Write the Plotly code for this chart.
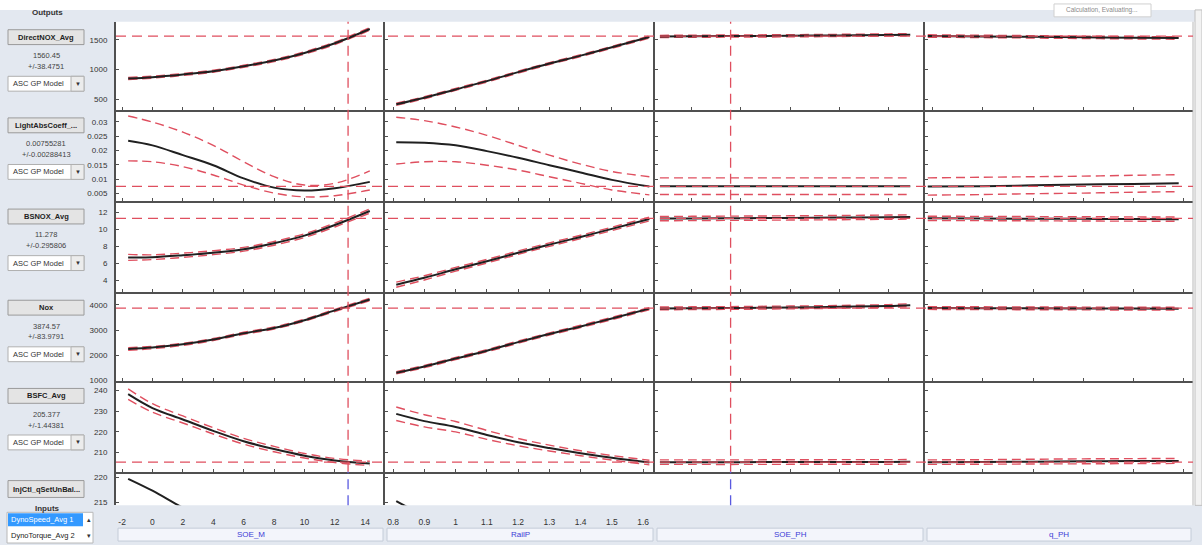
import plotly.graph_objects as go

W, H = 1202, 550

# ---------------- input sweeps ----------------
soe_m = [-1.6, 0, 2, 4, 6, 8, 10, 12, 14.3]
rail_p = [0.81, 0.9, 1.0, 1.1, 1.2, 1.3, 1.4, 1.5, 1.62]
soe_ph = [2.7, 4, 6, 8, 10, 12, 12.9]
q_ph = [-0.2, 2, 4, 6, 8, 9.8]
soe_m_short = [-1.6, 0, 1.5, 2.5]
rail_p_short = [0.81, 0.84, 0.9]

input_names = ["SOE_M", "RailP", "SOE_PH", "q_PH"]
input_current = [12.87, None, 5.58, None]

# ---------------- DirectNOX_Avg ----------------
dnox_soe_m = [850, 872, 917, 972, 1055, 1150, 1278, 1440, 1680]
dnox_soe_m_hi = [868, 889, 934, 989, 1072, 1168, 1297, 1460, 1702]
dnox_soe_m_lo = [832, 855, 900, 955, 1038, 1132, 1259, 1420, 1658]
dnox_rail_p = [417, 528, 667, 806, 956, 1100, 1233, 1372, 1545]
dnox_rail_p_hi = [435, 545, 683, 822, 972, 1116, 1249, 1388, 1562]
dnox_rail_p_lo = [399, 511, 651, 790, 940, 1084, 1217, 1356, 1528]
dnox_soe_ph = [1555, 1558, 1562, 1566, 1572, 1580, 1585]
dnox_soe_ph_hi = [1573, 1576, 1580, 1584, 1590, 1598, 1603]
dnox_soe_ph_lo = [1537, 1540, 1544, 1548, 1554, 1562, 1567]
dnox_q_ph = [1562, 1555, 1548, 1540, 1533, 1528]
dnox_q_ph_hi = [1582, 1575, 1568, 1560, 1553, 1548]
dnox_q_ph_lo = [1542, 1535, 1528, 1520, 1513, 1508]

# ---------------- LightAbsCoeff ----------------
lac_soe_m = [0.0234, 0.0218, 0.0184, 0.0149, 0.0103, 0.0071, 0.0061, 0.0069, 0.0091]
lac_soe_m_hi = [0.0320, 0.0299, 0.0264, 0.0218, 0.0161, 0.0109, 0.0080, 0.0086, 0.0129]
lac_soe_m_lo = [0.0164, 0.0161, 0.0144, 0.0115, 0.0080, 0.0052, 0.0039, 0.0043, 0.0063]
lac_rail_p = [0.0229, 0.0227, 0.0218, 0.0198, 0.0175, 0.0149, 0.0124, 0.0098, 0.0075]
lac_rail_p_hi = [0.0316, 0.0304, 0.0282, 0.0253, 0.0218, 0.0184, 0.0153, 0.0127, 0.0109]
lac_rail_p_lo = [0.0153, 0.0161, 0.0161, 0.0149, 0.0132, 0.0109, 0.0086, 0.0063, 0.0046]
lac_soe_ph = [0.00755, 0.00755, 0.00755, 0.00755, 0.00755, 0.00755, 0.00755]
lac_soe_ph_hi = [0.0105, 0.0105, 0.0105, 0.0105, 0.0105, 0.0105, 0.0105]
lac_soe_ph_lo = [0.0047, 0.0047, 0.0047, 0.0047, 0.0047, 0.0047, 0.0047]
lac_q_ph = [0.0075, 0.0076, 0.0079, 0.0082, 0.0084, 0.0086]
lac_q_ph_hi = [0.0105, 0.0107, 0.0109, 0.0111, 0.0114, 0.0116]
lac_q_ph_lo = [0.0045, 0.0047, 0.0050, 0.0052, 0.0055, 0.0057]

# ---------------- BSNOX_Avg ----------------
bsnox_soe_m = [6.70, 6.72, 6.95, 7.25, 7.65, 8.35, 9.25, 10.50, 12.15]
bsnox_soe_m_hi = [7.05, 7.00, 7.20, 7.48, 7.87, 8.57, 9.47, 10.73, 12.40]
bsnox_soe_m_lo = [6.35, 6.44, 6.70, 7.02, 7.43, 8.13, 9.03, 10.27, 11.90]
bsnox_rail_p = [3.50, 4.30, 5.30, 6.25, 7.25, 8.20, 9.10, 10.05, 11.20]
bsnox_rail_p_hi = [3.80, 4.55, 5.52, 6.46, 7.45, 8.40, 9.30, 10.25, 11.42]
bsnox_rail_p_lo = [3.20, 4.05, 5.08, 6.04, 7.05, 8.00, 8.90, 9.85, 10.98]
bsnox_soe_ph = [11.25, 11.27, 11.30, 11.33, 11.37, 11.42, 11.45]
bsnox_soe_ph_hi = [11.50, 11.52, 11.55, 11.58, 11.62, 11.67, 11.70]
bsnox_soe_ph_lo = [11.00, 11.02, 11.05, 11.08, 11.12, 11.17, 11.20]
bsnox_q_ph = [11.28, 11.26, 11.24, 11.22, 11.20, 11.19]
bsnox_q_ph_hi = [11.53, 11.51, 11.49, 11.47, 11.45, 11.44]
bsnox_q_ph_lo = [11.03, 11.01, 10.99, 10.97, 10.95, 10.94]

# ---------------- Nox ----------------
nox_soe_m = [2246, 2300, 2430, 2620, 2870, 3080, 3390, 3780, 4215]
nox_soe_m_hi = [2300, 2345, 2472, 2660, 2910, 3120, 3430, 3822, 4262]
nox_soe_m_lo = [2192, 2255, 2388, 2580, 2830, 3040, 3350, 3738, 4168]
nox_rail_p = [1297, 1547, 1864, 2178, 2517, 2842, 3143, 3457, 3850]
nox_rail_p_hi = [1342, 1592, 1909, 2223, 2562, 2887, 3188, 3502, 3895]
nox_rail_p_lo = [1252, 1502, 1819, 2133, 2472, 2797, 3098, 3412, 3805]
nox_soe_ph = [3860, 3868, 3880, 3898, 3922, 3955, 3990]
nox_soe_ph_hi = [3915, 3923, 3935, 3953, 3977, 4010, 4045]
nox_soe_ph_lo = [3805, 3813, 3825, 3843, 3867, 3900, 3935]
nox_q_ph = [3875, 3868, 3862, 3857, 3852, 3850]
nox_q_ph_hi = [3930, 3923, 3917, 3912, 3907, 3905]
nox_q_ph_lo = [3820, 3813, 3807, 3802, 3797, 3795]

# ---------------- BSFC_Avg ----------------
bsfc_soe_m = [238.2, 231.5, 226.0, 220.5, 215.5, 211.7, 208.5, 206.2, 204.8]
bsfc_soe_m_hi = [240.8, 233.6, 227.7, 222.0, 216.9, 213.0, 209.6, 207.2, 205.8]
bsfc_soe_m_lo = [235.7, 229.5, 224.3, 219.0, 214.1, 210.4, 207.4, 205.2, 203.8]
bsfc_rail_p = [228.7, 225.2, 222.4, 218.5, 215.0, 212.2, 209.7, 207.5, 205.2]
bsfc_rail_p_hi = [232.0, 228.3, 225.0, 220.7, 216.8, 213.6, 210.9, 208.6, 206.3]
bsfc_rail_p_lo = [225.5, 222.4, 220.0, 216.4, 213.3, 210.8, 208.5, 206.4, 204.1]
bsfc_soe_ph = [205.40, 205.40, 205.40, 205.45, 205.50, 205.50, 205.55]
bsfc_soe_ph_hi = [206.50, 206.50, 206.50, 206.55, 206.60, 206.60, 206.65]
bsfc_soe_ph_lo = [204.30, 204.30, 204.30, 204.35, 204.40, 204.40, 204.45]
bsfc_q_ph = [205.4, 205.5, 205.6, 205.8, 205.9, 206.0]
bsfc_q_ph_hi = [206.5, 206.6, 206.8, 207.0, 207.1, 207.2]
bsfc_q_ph_lo = [204.3, 204.4, 204.5, 204.6, 204.7, 204.8]

# ---------------- InjCtl_qSetUnBal ----------------
qset_soe_m = [219.7, 217.3, 214.7, 213.0]
qset_rail_p = [215.2, 214.2, 212.5]

# ---------------- output panel texts ----------------
output_buttons = ["DirectNOX_Avg", "LightAbsCoeff_...", "BSNOX_Avg", "Nox", "BSFC_Avg",
                  "InjCtl_qSetUnBal..."]
output_values = ["1560.45", "0.00755281", "11.278", "3874.57", "205.377", None]
output_errors = ["+/-38.4751", "+/-0.00288413", "+/-0.295806", "+/-83.9791", "+/-1.44381", None]
output_current = [1560.45, 0.00755281, 11.278, 3874.57, 205.377, None]

# ---------------- axis scales ----------------
y_ranges = [[322, 1800], [0.0024, 0.0341], [2.6, 13.3], [990, 4500], [200.8, 244.8],
            [214.34, 221.14]]
y_tickvals = [[500, 1000, 1500],
              [0.005, 0.01, 0.015, 0.02, 0.025, 0.03],
              [4, 6, 8, 10, 12],
              [1000, 2000, 3000, 4000],
              [210, 220, 230, 240],
              [215, 220]]
y_ticktext = [["500", "1000", "1500"],
              ["0.005", "0.01", "0.015", "0.02", "0.025", "0.03"],
              ["4", "6", "8", "10", "12"],
              ["1000", "2000", "3000", "4000"],
              ["210", "220", "230", "240"],
              ["215", "220"]]
x_ranges = [[-2.4, 15.3], [0.774, 1.638], [2.5, 13.5], [-0.31, 10.37]]
x_tickvals = [[-2, 0, 2, 4, 6, 8, 10, 12, 14],
              [0.8, 0.9, 1.0, 1.1, 1.2, 1.3, 1.4, 1.5, 1.6],
              [4, 6, 8, 10, 12],
              [0, 2, 4, 6, 8, 10]]
x_ticktext = [["-2", "0", "2", "4", "6", "8", "10", "12", "14"],
              ["0.8", "0.9", "1", "1.1", "1.2", "1.3", "1.4", "1.5", "1.6"],
              ["4", "6", "8", "10", "12"],
              ["0", "2", "4", "6", "8", "10"]]

# profile table: (row, col) -> (mean, upper, lower)
inputs = [soe_m, rail_p, soe_ph, q_ph]
profiles = {
    (0, 0): (dnox_soe_m, dnox_soe_m_hi, dnox_soe_m_lo),
    (0, 1): (dnox_rail_p, dnox_rail_p_hi, dnox_rail_p_lo),
    (0, 2): (dnox_soe_ph, dnox_soe_ph_hi, dnox_soe_ph_lo),
    (0, 3): (dnox_q_ph, dnox_q_ph_hi, dnox_q_ph_lo),
    (1, 0): (lac_soe_m, lac_soe_m_hi, lac_soe_m_lo),
    (1, 1): (lac_rail_p, lac_rail_p_hi, lac_rail_p_lo),
    (1, 2): (lac_soe_ph, lac_soe_ph_hi, lac_soe_ph_lo),
    (1, 3): (lac_q_ph, lac_q_ph_hi, lac_q_ph_lo),
    (2, 0): (bsnox_soe_m, bsnox_soe_m_hi, bsnox_soe_m_lo),
    (2, 1): (bsnox_rail_p, bsnox_rail_p_hi, bsnox_rail_p_lo),
    (2, 2): (bsnox_soe_ph, bsnox_soe_ph_hi, bsnox_soe_ph_lo),
    (2, 3): (bsnox_q_ph, bsnox_q_ph_hi, bsnox_q_ph_lo),
    (3, 0): (nox_soe_m, nox_soe_m_hi, nox_soe_m_lo),
    (3, 1): (nox_rail_p, nox_rail_p_hi, nox_rail_p_lo),
    (3, 2): (nox_soe_ph, nox_soe_ph_hi, nox_soe_ph_lo),
    (3, 3): (nox_q_ph, nox_q_ph_hi, nox_q_ph_lo),
    (4, 0): (bsfc_soe_m, bsfc_soe_m_hi, bsfc_soe_m_lo),
    (4, 1): (bsfc_rail_p, bsfc_rail_p_hi, bsfc_rail_p_lo),
    (4, 2): (bsfc_soe_ph, bsfc_soe_ph_hi, bsfc_soe_ph_lo),
    (4, 3): (bsfc_q_ph, bsfc_q_ph_hi, bsfc_q_ph_lo),
}
short_profiles = {(5, 0): (soe_m_short, qset_soe_m), (5, 1): (rail_p_short, qset_rail_p)}

# ---------------- pixel layout of the grid ----------------
COLS = [(116, 385), (385, 655), (655, 925), (925, 1193)]
ROWS = [(22, 111), (111, 203), (203, 295), (295, 384), (384, 476), (476, 510)]

FONT = "Liberation Sans, Arial, sans-serif"
AXIS_COL = "#505050"
RED = "#df4f5f"
PANEL_BG = "#e3e8f0"


def px(x):
    return x / W


def py(y):
    return 1 - y / H


def ax_id(n):
    return "" if n == 1 else str(n)


fig = go.Figure()
layout = dict(
    width=W, height=H, autosize=False,
    margin=dict(l=0, r=0, t=0, b=0),
    paper_bgcolor="white", plot_bgcolor="white",
    showlegend=False,
    font=dict(family=FONT, size=8, color="#333333"),
)

for r, (y0, y1) in enumerate(ROWS):
    for c, (x0, x1) in enumerate(COLS):
        n = r * 4 + c + 1
        last = r == len(ROWS) - 1
        layout["xaxis" + ax_id(n)] = dict(
            domain=[px(x0), px(x1)], anchor="y" + ax_id(n),
            range=x_ranges[c], tickvals=x_tickvals[c], ticktext=x_ticktext[c],
            showline=not last, linecolor=AXIS_COL, linewidth=2,
            ticks="" if last else "inside", ticklen=3, tickcolor=AXIS_COL,
            showticklabels=last, ticklabelstandoff=10,
            tickfont=dict(size=8.5, color="#333333"),
            showgrid=False, zeroline=False, fixedrange=True,
        )
        layout["yaxis" + ax_id(n)] = dict(
            domain=[py(y1), py(y0)], anchor="x" + ax_id(n),
            range=y_ranges[r], tickvals=y_tickvals[r], ticktext=y_ticktext[r],
            showline=True, linecolor=AXIS_COL, linewidth=2,
            ticks="inside", ticklen=3, tickcolor=AXIS_COL,
            showticklabels=(c == 0), ticklabelstandoff=5,
            tickfont=dict(size=8, color="#333333"),
            showgrid=False, zeroline=False, fixedrange=True,
        )

        xa, ya = "x" + ax_id(n), "y" + ax_id(n)
        if (r, c) in profiles:
            mean, hi, lo = profiles[(r, c)]
            xs = inputs[c]
            for band in (hi, lo):
                fig.add_trace(go.Scatter(
                    x=xs, y=band, xaxis=xa, yaxis=ya, mode="lines",
                    line=dict(color=RED, width=1.4, dash="9px,5px", shape="spline"),
                    hoverinfo="skip"))
            fig.add_trace(go.Scatter(
                x=xs, y=mean, xaxis=xa, yaxis=ya, mode="lines",
                line=dict(color="#202020", width=2, shape="spline"),
                hoverinfo="skip"))
        if (r, c) in short_profiles:
            xs, mean = short_profiles[(r, c)]
            fig.add_trace(go.Scatter(
                x=xs, y=mean, xaxis=xa, yaxis=ya, mode="lines",
                line=dict(color="#202020", width=2, shape="spline"),
                hoverinfo="skip"))

shapes = []
annotations = []

# GUI background panels
shapes.append(dict(type="rect", xref="paper", yref="paper", x0=0, x1=px(116),
                   y0=0, y1=py(10), fillcolor=PANEL_BG, line_width=0, layer="below"))
shapes.append(dict(type="rect", xref="paper", yref="paper", x0=0, x1=px(1195),
                   y0=py(22), y1=py(10), fillcolor=PANEL_BG, line_width=0, layer="below"))
shapes.append(dict(type="rect", xref="paper", yref="paper", x0=0, x1=1,
                   y0=0, y1=py(510), fillcolor=PANEL_BG, line_width=0, layer="below"))
# vertical scroll bar on the right
shapes.append(dict(type="rect", xref="paper", yref="paper", x0=px(1195), x1=1,
                   y0=py(510), y1=py(10), fillcolor="#f2f2f2",
                   line=dict(color="#c0c0c0", width=1), layer="below"))
# light right border of the last column
shapes.append(dict(type="line", xref="paper", yref="paper", x0=px(1193), x1=px(1193),
                   y0=py(510), y1=py(22), line=dict(color="#b8b8b8", width=1)))

# current output values (horizontal) across all four columns
for r, val in enumerate(output_current):
    if val is None:
        continue
    n = r * 4 + 1
    shapes.append(dict(type="line", xref="paper", yref="y" + ax_id(n),
                       x0=px(COLS[0][0]), x1=px(COLS[-1][1]), y0=val, y1=val,
                       line=dict(color=RED, width=1.3, dash="10px,6px")))

# current input settings (vertical)
for c, val in enumerate(input_current):
    if val is None:
        continue
    shapes.append(dict(type="line", xref="x" + ax_id(c + 1), yref="paper",
                       x0=val, x1=val, y0=py(ROWS[4][1]), y1=py(ROWS[0][0]),
                       line=dict(color=RED, width=1.3, dash="10px,6px")))
    shapes.append(dict(type="line", xref="x" + ax_id(c + 1), yref="paper",
                       x0=val, x1=val, y0=py(ROWS[5][1]), y1=py(ROWS[5][0]),
                       line=dict(color="#5a5ae0", width=1.3, dash="10px,6px")))

# input name boxes under the x tick labels
for c, (x0, x1) in enumerate(COLS):
    shapes.append(dict(type="rect", xref="paper", yref="paper",
                       x0=px(x0 + 2), x1=px(x1 - 2), y0=py(546), y1=py(533),
                       fillcolor="#f3f5fb", line=dict(color="#c4ccd8", width=1),
                       layer="below"))
    annotations.append(dict(xref="paper", yref="paper", x=px((x0 + x1) / 2), y=py(539.5),
                            text=input_names[c], showarrow=False,
                            font=dict(size=8, color="#3c3cd6"),
                            xanchor="center", yanchor="middle"))

# output panel: buttons, values, model selectors
annotations.append(dict(xref="paper", yref="paper", x=px(47), y=py(13), text="<b>Outputs</b>",
                        showarrow=False, font=dict(size=8, color="#333333"),
                        xanchor="center", yanchor="middle"))
for r, (top, _) in enumerate(ROWS):
    b0, b1 = (top + 8, top + 23) if r < 5 else (top + 9, top + 26)
    shapes.append(dict(type="rect", xref="paper", yref="paper", x0=px(8), x1=px(84),
                       y0=py(b1), y1=py(b0), fillcolor="#e4e4e4",
                       line=dict(color="#9a9a9a", width=1)))
    annotations.append(dict(xref="paper", yref="paper", x=px(46), y=py((b0 + b1) / 2),
                            text="<b>" + output_buttons[r] + "</b>", showarrow=False,
                            font=dict(size=7.5, color="#222222"),
                            xanchor="center", yanchor="middle"))
    if output_values[r] is None:
        continue
    annotations.append(dict(xref="paper", yref="paper", x=px(46), y=py(top + 34),
                            text=output_values[r], showarrow=False,
                            font=dict(size=7.5, color="#444444"),
                            xanchor="center", yanchor="middle"))
    annotations.append(dict(xref="paper", yref="paper", x=px(46), y=py(top + 45),
                            text=output_errors[r], showarrow=False,
                            font=dict(size=7.5, color="#444444"),
                            xanchor="center", yanchor="middle"))
    shapes.append(dict(type="rect", xref="paper", yref="paper", x0=px(8), x1=px(84),
                       y0=py(top + 70), y1=py(top + 55), fillcolor="white",
                       line=dict(color="#b0b0b0", width=1)))
    shapes.append(dict(type="rect", xref="paper", yref="paper", x0=px(71), x1=px(84),
                       y0=py(top + 70), y1=py(top + 55), fillcolor="#ececec",
                       line=dict(color="#b0b0b0", width=1)))
    annotations.append(dict(xref="paper", yref="paper", x=px(11), y=py(top + 62.5),
                            text="ASC GP Model", showarrow=False,
                            font=dict(size=7.5, color="#333333"),
                            xanchor="left", yanchor="middle"))
    annotations.append(dict(xref="paper", yref="paper", x=px(77.5), y=py(top + 62.5),
                            text="▼", showarrow=False,
                            font=dict(size=6, color="#333333"),
                            xanchor="center", yanchor="middle"))

# inputs list box
annotations.append(dict(xref="paper", yref="paper", x=px(47), y=py(513), text="<b>Inputs</b>",
                        showarrow=False, font=dict(size=8, color="#333333"),
                        xanchor="center", yanchor="middle"))
shapes.append(dict(type="rect", xref="paper", yref="paper", x0=px(7), x1=px(93),
                   y0=py(548), y1=py(517), fillcolor="white",
                   line=dict(color="#b8b8b8", width=1)))
shapes.append(dict(type="rect", xref="paper", yref="paper", x0=px(8), x1=px(83),
                   y0=py(531), y1=py(518), fillcolor="#3399ff", line_width=0))
annotations.append(dict(xref="paper", yref="paper", x=px(9), y=py(524.5),
                        text="DynoSpeed_Avg 1", showarrow=False,
                        font=dict(size=7.5, color="white"), xanchor="left", yanchor="middle"))
annotations.append(dict(xref="paper", yref="paper", x=px(9), y=py(540),
                        text="DynoTorque_Avg 2", showarrow=False,
                        font=dict(size=7.5, color="#222222"), xanchor="left", yanchor="middle"))
for yy, sym in ((524.5, "▴"), (540, "▾")):
    annotations.append(dict(xref="paper", yref="paper", x=px(88.5), y=py(yy), text=sym,
                            showarrow=False, font=dict(size=7, color="#333333"),
                            xanchor="center", yanchor="middle"))

# status tip in the top-right corner
shapes.append(dict(type="rect", xref="paper", yref="paper", x0=px(1054), x1=px(1151),
                   y0=py(17), y1=py(4), fillcolor="white",
                   line=dict(color="#d0d0d0", width=1)))
annotations.append(dict(xref="paper", yref="paper", x=px(1102), y=py(10.5),
                        text="Calculation, Evaluating...", showarrow=False,
                        font=dict(size=6.5, color="#8a8a8a"),
                        xanchor="center", yanchor="middle"))

layout["shapes"] = shapes
layout["annotations"] = annotations
fig.update_layout(**layout)

fig.write_html("out.html")
